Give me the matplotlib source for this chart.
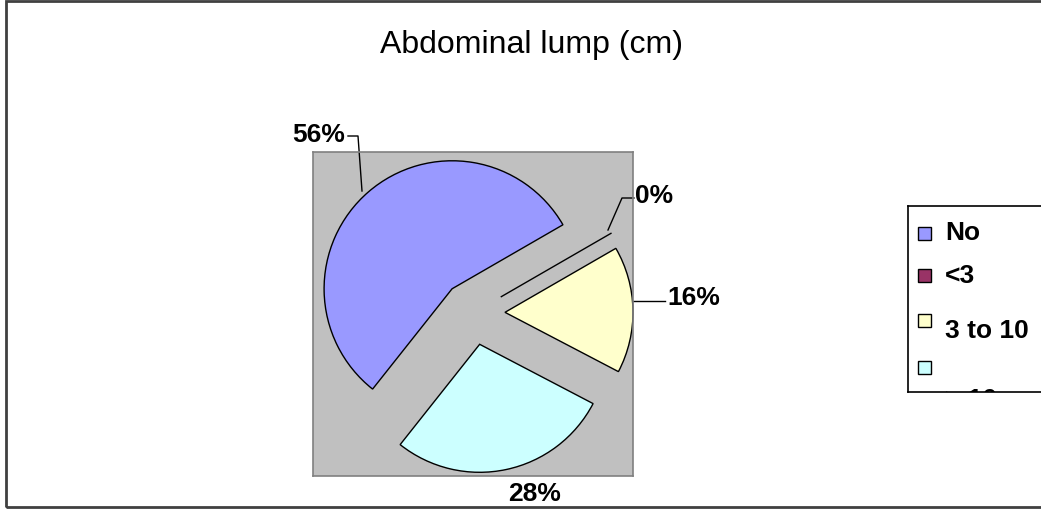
import numpy as np
import matplotlib
matplotlib.use("Agg")
import matplotlib.pyplot as plt
from matplotlib.patches import Rectangle

# ---- data ----
title = "Abdominal lump (cm)"
categories = ["No", "<3", "3 to 10", "> 10"]
values = [56, 0, 16, 28]
pct_labels = ["56%", "0%", "16%", "28%"]
colors = ["#9999FF", "#993366", "#FFFFCC", "#CCFFFF"]

W, H = 1041, 510
fig = plt.figure(figsize=(W / 100, H / 100), dpi=100)
fig.patch.set_facecolor("white")
font = "Liberation Sans"

# figure border
fig.add_artist(Rectangle((6 / W, 2 / H), 1.2, 506 / H, transform=fig.transFigure,
                         fill=False, edgecolor="#404040", linewidth=2))

# plot area (gray)
L, R, T, B = 313, 633, 153, 477
ax = fig.add_axes([L / W, (H - B) / H, (R - L) / W, (B - T) / H])

scale = 128.0  # px per radius
cx, cy = 473, 314

explode = [0.25] * len(values)
wedges, _ = ax.pie(values, colors=colors, explode=explode, startangle=231.6,
                   counterclock=False, radius=1.0,
                   wedgeprops=dict(edgecolor="#000000", linewidth=1.0),
                   frame=True)
ax.set_facecolor("#C0C0C0")
for s in ax.spines.values():
    s.set_edgecolor("#808080")
    s.set_linewidth(1.2)
ax.set_xlim((L - cx) / scale, (R - cx) / scale)
ax.set_ylim((cy - B) / scale, (cy - T) / scale)
ax.set_aspect("auto")
ax.set_xticks([]); ax.set_yticks([])

lab_kw = dict(fontsize=19, fontweight="bold", family=font, clip_on=False)
lc = dict(color="#000000", linewidth=1.0, clip_on=False)

def px(x, y):
    return (x - cx) / scale, (cy - y) / scale

# 56%
p = [px(362, 192), px(358, 137), px(348, 137)]
ax.plot([q[0] for q in p], [q[1] for q in p], **lc)
ax.text(*px(345, 135), pct_labels[0], ha="right", va="center", **lab_kw)
# 0%
p = [px(608, 231), px(622, 199), px(634, 199)]
ax.plot([q[0] for q in p], [q[1] for q in p], **lc)
ax.text(*px(635, 196), pct_labels[1], ha="left", va="center", **lab_kw)
# 16%
p = [px(633, 302), px(665, 302)]
ax.plot([q[0] for q in p], [q[1] for q in p], **lc)
ax.text(*px(667, 298), pct_labels[2], ha="left", va="center", **lab_kw)
# 28%
ax.text(*px(535, 494), pct_labels[3], ha="center", va="center", **lab_kw)

# title
fig.text(531 / W, 1 - 45 / H, title, ha="center", va="center", fontsize=23,
         family=font)

# legend (clipped by the figure edge)
LL, LT, LB = 908, 207, 393
lw_px = W - LL + 20
lax = fig.add_axes([LL / W, (H - LB) / H, lw_px / W, (LB - LT) / H])
lax.set_xlim(0, lw_px)
lax.set_ylim(LB - LT, 0)
lax.set_xticks([]); lax.set_yticks([])
lax.set_facecolor("white")
for s in lax.spines.values():
    s.set_edgecolor("#000000")
    s.set_linewidth(1.2)
sq_y = [21, 63, 108, 155]
tx_y = [26, 69, 124, 193]
for c, lab, sy, ty in zip(colors, categories, sq_y, tx_y):
    lax.add_patch(Rectangle((10, sy), 13, 13, facecolor=c, edgecolor="#000000",
                            linewidth=1.0))
    lax.text(37, ty, lab, ha="left", va="center", fontsize=19, fontweight="bold",
             family=font, clip_on=True)

fig.savefig("out.png", dpi=100)
